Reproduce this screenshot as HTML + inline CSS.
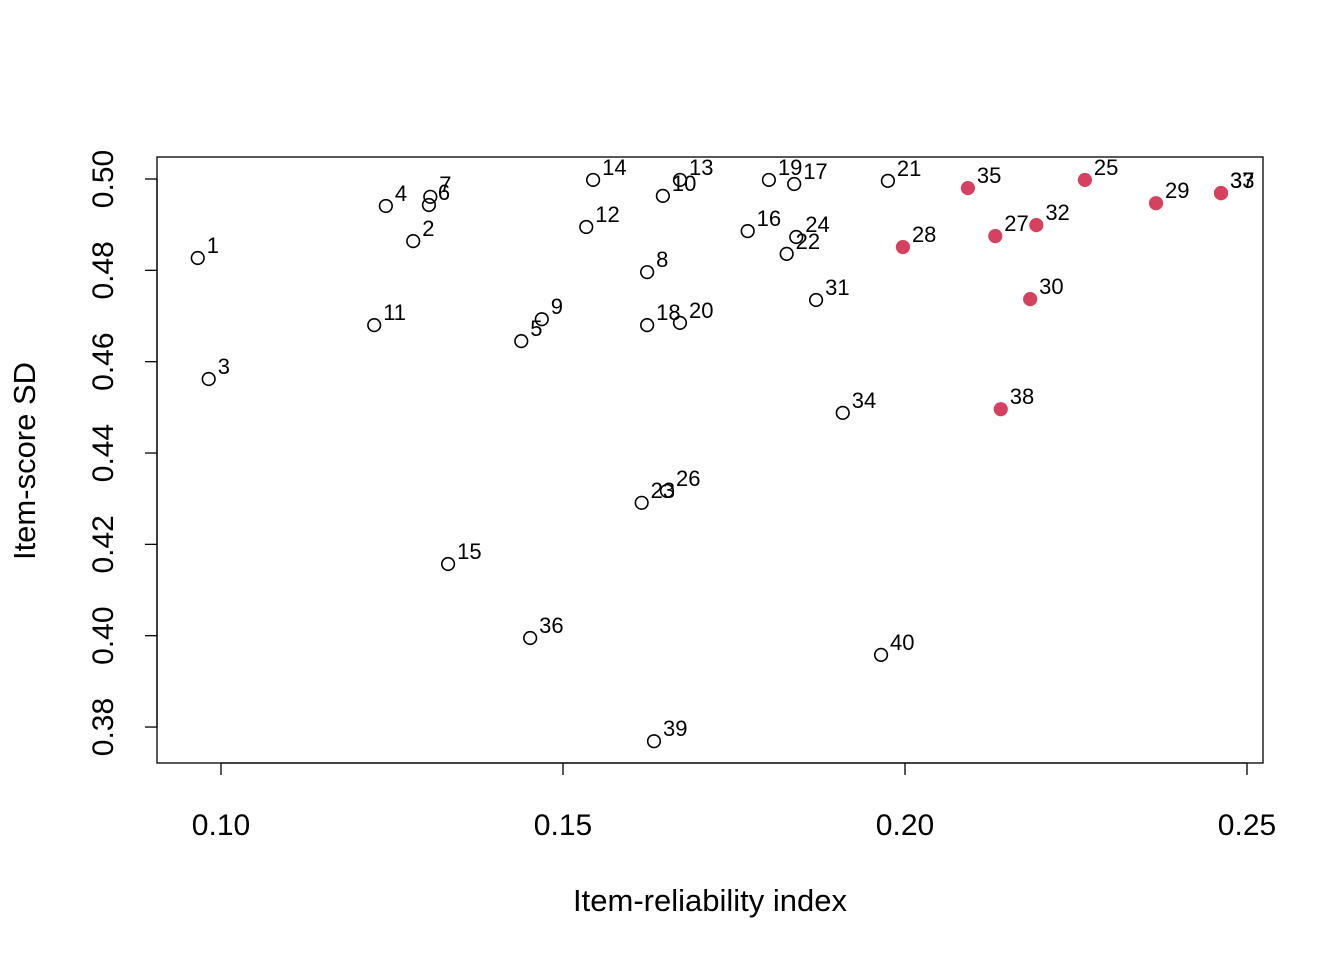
<!DOCTYPE html>
<html><head><meta charset="utf-8"><style>body{margin:0;background:#fff}svg text{font-family:"Liberation Sans",Arial,sans-serif}</style></head>
<body>
<svg id="chart" width="1344" height="960" xmlns="http://www.w3.org/2000/svg">
<rect x="157" y="157" width="1106" height="606" fill="none" stroke="#000" stroke-width="1.3"/>
<g id="axes"></g><g id="pts"></g>
<text x="710" y="911" font-size="31" text-anchor="middle">Item-reliability index</text>
<text transform="translate(35,461) rotate(-90)" font-size="31" text-anchor="middle">Item-score SD</text>
</svg>
<script>
const xVals=[0.0966,0.1281,0.0982,0.1241,0.1439,0.1304,0.1306,0.1623,0.1469,0.1646,0.1224,0.1534,0.1671,0.1544,0.1332,0.1770,0.1838,0.1623,0.1801,0.1671,0.1975,0.1827,0.1615,0.1841,0.2263,0.1652,0.2132,0.1997,0.2367,0.2183,0.1870,0.2192,0.2462,0.1909,0.2092,0.1452,0.2462,0.2140,0.1633,0.1965];
const yVals=[0.4827,0.4864,0.4562,0.4941,0.4645,0.4943,0.4961,0.4796,0.4693,0.4963,0.4680,0.4895,0.4998,0.4998,0.4157,0.4886,0.4989,0.4680,0.4998,0.4685,0.4996,0.4836,0.4291,0.4873,0.4998,0.4317,0.4875,0.4851,0.4947,0.4737,0.4735,0.4899,0.4969,0.4488,0.4980,0.3995,0.4969,0.4496,0.3769,0.3958];
const flagged=[25,27,28,29,30,32,33,35,37,38];
const xTicks=[0.10,0.15,0.20,0.25];
const yTicks=[0.38,0.40,0.42,0.44,0.46,0.48,0.50];
const xTickLabels=["0.10","0.15","0.20","0.25"];
const yTickLabels=["0.38","0.40","0.42","0.44","0.46","0.48","0.50"];
const sx=v=>221+(v-0.10)*6840;
const sy=v=>179+(0.50-v)*4567;
const NS="http://www.w3.org/2000/svg";
function mk(t,a,p){const e=document.createElementNS(NS,t);for(const k in a)e.setAttribute(k,a[k]);p.appendChild(e);return e;}
const ax=document.getElementById('axes');
let l=mk('line',{x1:sx(0.10),x2:sx(0.25),y1:763,y2:763,stroke:'#000','stroke-width':1.3},ax);


xTicks.forEach((v,i)=>{const t=mk('line',{x1:sx(v),x2:sx(v),y1:763,y2:775,stroke:'#000','stroke-width':1.3},ax);


const tx=mk('text',{x:sx(v),y:835,'font-size':30,'text-anchor':'middle'},ax);tx.textContent=xTickLabels[i];

});
l=mk('line',{x1:157,x2:157,y1:sy(0.38),y2:sy(0.50),stroke:'#000','stroke-width':1.3},ax);


yTicks.forEach((v,i)=>{const t=mk('line',{x1:145,x2:157,y1:sy(v),y2:sy(v),stroke:'#000','stroke-width':1.3},ax);


const tx=mk('text',{transform:`translate(113,${sy(v)}) rotate(-90)`,'font-size':30,'text-anchor':'middle'},ax);tx.textContent=yTickLabels[i];

});
const pg=document.getElementById('pts');
xVals.forEach((x,i)=>{const n=i+1,red=flagged.includes(n);
const c=mk('circle',{cx:sx(x),cy:sy(yVals[i]),r:6.3,fill:red?'#D5415E':'none',stroke:red?'#D5415E':'#000','stroke-width':1.6},pg);


const t=mk('text',{x:sx(x)+9,y:sy(yVals[i])-5,'font-size':22},pg);t.textContent=n;

});
</script>
</body></html>
